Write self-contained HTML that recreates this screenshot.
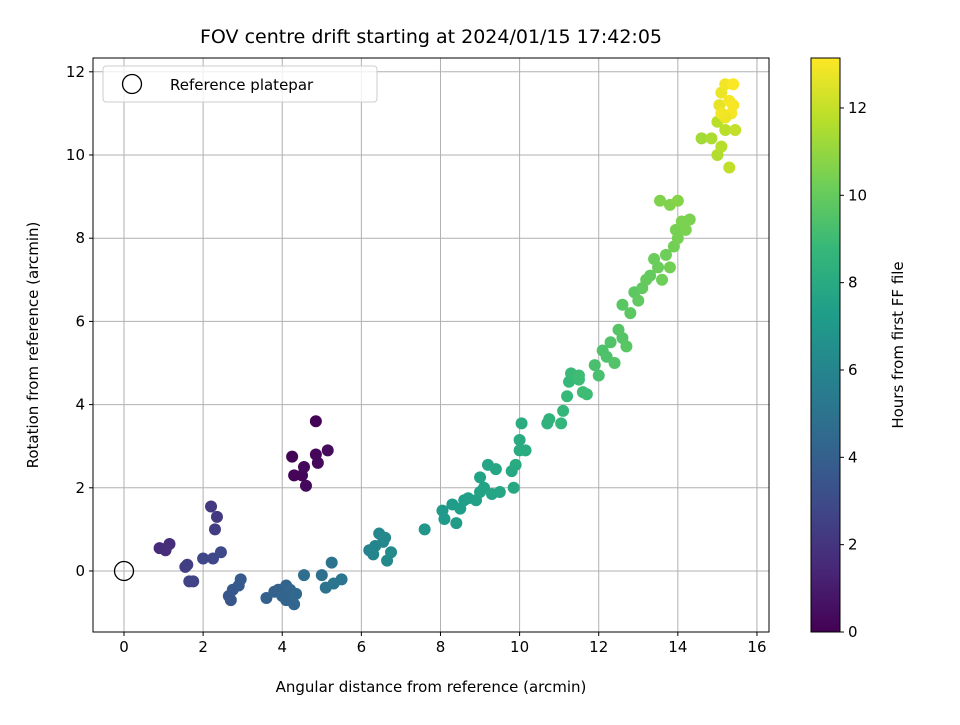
<!DOCTYPE html>
<html><head><meta charset="utf-8"><style>
body{margin:0;background:#fff;font-family:"Liberation Sans","DejaVu Sans",sans-serif}
svg text{font-family:"DejaVu Sans","Liberation Sans",sans-serif;fill:#000}
</style></head><body>
<svg id="c" width="960" height="720" xmlns="http://www.w3.org/2000/svg"></svg>
<script>
const xs=[4.25,4.3,4.5,4.55,4.6,4.85,4.85,4.9,5.15,
0.9,1.05,1.15,1.55,1.6,1.65,1.75,2.0,2.2,2.3,2.35,2.25,2.45,
2.65,2.7,2.75,2.9,2.95,3.6,3.8,3.9,4.0,4.1,4.1,4.2,4.3,4.35,4.55,
5.0,5.1,5.25,5.3,5.5,
6.2,6.3,6.35,6.45,6.55,6.6,6.65,6.75,
7.6,8.05,8.1,8.3,8.4,8.5,8.6,8.7,8.9,9.0,9.0,9.1,9.2,9.3,9.4,9.5,9.8,9.85,9.9,10.0,10.0,10.05,10.15,
10.7,10.75,11.05,11.1,11.2,11.25,11.3,11.5,11.6,11.7,11.5,
11.9,12.0,12.1,12.2,12.3,12.4,12.5,12.6,12.7,12.6,12.8,12.9,13.0,13.1,13.2,13.3,13.4,13.5,13.6,13.7,13.8,13.9,13.95,14.0,14.1,14.2,14.3,13.55,13.8,14.0,
14.6,14.85,15.0,15.1,15.2,15.3,15.45,15.0,
15.05,15.1,15.2,15.3,15.4,15.35,15.2,15.4,15.1];
const ys=[2.75,2.3,2.3,2.5,2.05,3.6,2.8,2.6,2.9,
0.55,0.5,0.65,0.1,0.15,-0.25,-0.25,0.3,1.55,1.0,1.3,0.3,0.45,
-0.6,-0.7,-0.45,-0.35,-0.2,-0.65,-0.5,-0.45,-0.6,-0.35,-0.7,-0.45,-0.8,-0.55,-0.1,
-0.1,-0.4,0.2,-0.3,-0.2,
0.5,0.4,0.6,0.9,0.7,0.8,0.25,0.45,
1.0,1.45,1.25,1.6,1.15,1.5,1.7,1.75,1.7,2.25,1.9,2.0,2.55,1.85,2.45,1.9,2.4,2.0,2.55,2.9,3.15,3.55,2.9,
3.55,3.65,3.55,3.85,4.2,4.55,4.75,4.6,4.3,4.25,4.7,
4.95,4.7,5.3,5.15,5.5,5.0,5.8,5.6,5.4,6.4,6.2,6.7,6.5,6.8,7.0,7.1,7.5,7.3,7.0,7.6,7.3,7.8,8.2,8.0,8.4,8.2,8.45,8.9,8.8,8.9,
10.4,10.4,10.0,10.2,10.6,9.7,10.6,10.8,
11.2,11.5,11.7,11.3,11.7,11.0,10.9,11.2,11.0];
const ts=[0.1,0.2,0.2,0.3,0.3,0.1,0.2,0.3,0.4,
1.6,1.7,1.7,2.4,2.4,2.6,2.6,2.8,2.2,2.3,2.2,2.8,2.9,
3.5,3.5,3.6,3.7,3.7,4.0,4.1,4.1,4.2,4.2,4.2,4.3,4.3,4.4,4.7,
4.9,5.0,5.0,5.1,5.1,
5.9,6.0,6.0,6.1,6.1,6.2,6.2,6.3,
6.9,7.1,7.1,7.2,7.2,7.3,7.3,7.4,7.5,7.6,7.6,7.6,7.7,7.7,7.8,7.8,7.9,7.9,8.0,8.0,8.0,8.1,8.1,
8.5,8.5,8.7,8.7,8.8,8.8,8.9,9.0,9.0,9.0,9.0,
9.3,9.3,9.4,9.4,9.5,9.5,9.6,9.6,9.7,9.7,9.8,9.8,9.9,9.9,10.0,10.0,10.1,10.1,10.2,10.2,10.3,10.3,10.4,10.4,10.5,10.5,10.5,10.6,10.6,10.7,
11.3,11.5,11.6,11.7,11.8,11.9,12.0,11.8,
12.7,12.8,12.9,13.0,13.1,13.0,12.8,13.0,12.9];
const xTicks=[0,2,4,6,8,10,12,14,16];
const yTicks=[0,2,4,6,8,10,12];
const cTicks=[0,2,4,6,8,10,12];
const NS="http://www.w3.org/2000/svg",svg=document.getElementById('c');
const L=93,R=769,T=58,B=632;
const X=v=>124+v*39.56, Y=v=>571-v*41.6, CY=v=>632-v*43.67;
const vir=[[68,1,84],[72,40,120],[62,74,137],[49,104,142],[38,130,142],[31,158,137],[53,183,121],[110,206,88],[181,222,43],[253,231,37]];
function col(t){let f=Math.max(0,Math.min(1,t/13.15))*9,i=Math.min(8,Math.floor(f)),r=f-i,a=vir[i],b=vir[i+1];return `rgb(${a.map((v,k)=>Math.round(v+(b[k]-v)*r)).join(',')})`;}
function el(tag,at,txt){const e=document.createElementNS(NS,tag);for(const k in at)e.setAttribute(k,at[k]);if(txt!==undefined)e.textContent=txt;svg.appendChild(e);return e;}
// grid
xTicks.forEach(v=>{const g=el('line',{x1:X(v),x2:X(v),y1:T,y2:B,stroke:'#b0b0b0','stroke-width':1});
const t=el('line',{x1:X(v),x2:X(v),y1:B,y2:B+4,stroke:'#000'});
const l=el('text',{x:X(v),y:B+20,'font-size':15,'text-anchor':'middle'},v);});
yTicks.forEach(v=>{const g=el('line',{x1:L,x2:R,y1:Y(v),y2:Y(v),stroke:'#b0b0b0','stroke-width':1});
const t=el('line',{x1:L-4,x2:L,y1:Y(v),y2:Y(v),stroke:'#000'});
const l=el('text',{x:L-8,y:Y(v)+5,'font-size':15,'text-anchor':'end'},v);});
// points
xs.forEach((x,i)=>{const c=el('circle',{cx:X(x),cy:Y(ys[i]),r:6,fill:col(ts[i])});});
const ref=el('circle',{cx:X(0),cy:Y(0),r:9.5,fill:'none',stroke:'#000','stroke-width':1.3});
const fr=el('rect',{x:L,y:T,width:R-L,height:B-T,fill:'none',stroke:'#000','stroke-width':1});
// legend
const lg=el('rect',{x:103,y:66,width:274,height:36,rx:3,fill:'#fff','fill-opacity':0.8,stroke:'#ccc'});
const lm=el('circle',{cx:132,cy:84,r:9.5,fill:'none',stroke:'#000','stroke-width':1.3});
const lt=el('text',{x:170,y:90,'font-size':15},'Reference platepar');
// titles
const tt=el('text',{x:431,y:43,'font-size':19,'text-anchor':'middle'},'FOV centre drift starting at 2024/01/15 17:42:05');
const xt=el('text',{x:431,y:692,'font-size':15,'text-anchor':'middle'},'Angular distance from reference (arcmin)');
const yt=el('text',{x:38,y:345,'font-size':15,'text-anchor':'middle',transform:'rotate(-90 38 345)'},'Rotation from reference (arcmin)');
// colorbar
const defs=el('defs',{});const gr=document.createElementNS(NS,'linearGradient');gr.setAttribute('id','vg');gr.setAttribute('x1','0');gr.setAttribute('y1','1');gr.setAttribute('x2','0');gr.setAttribute('y2','0');
vir.forEach((c,i)=>{const s=document.createElementNS(NS,'stop');s.setAttribute('offset',i/9);s.setAttribute('stop-color',`rgb(${c.join(',')})`);gr.appendChild(s);});defs.appendChild(gr);
const cb=el('rect',{x:811,y:T,width:29,height:B-T,fill:'url(#vg)',stroke:'#000','stroke-width':1});
cTicks.forEach(v=>{const t=el('line',{x1:840,x2:844,y1:CY(v),y2:CY(v),stroke:'#000'});
const l=el('text',{x:848,y:CY(v)+5,'font-size':15},v);});
const ct=el('text',{x:903,y:345,'font-size':15,'text-anchor':'middle',transform:'rotate(-90 903 345)'},'Hours from first FF file');
</script>
</body></html>
